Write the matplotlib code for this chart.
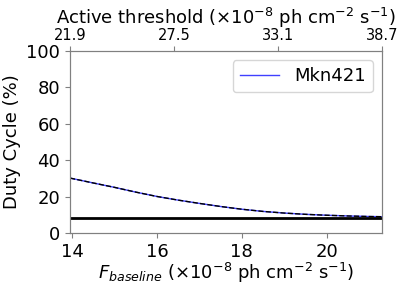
import matplotlib.pyplot as plt
import numpy as np

# Mkn421 duty cycle vs baseline flux
f_base = [13.95, 14.5, 15, 15.5, 16, 16.5, 17, 17.5, 18, 18.5, 19, 19.5, 20, 20.5, 21, 21.3]
duty = [30.2, 27.5, 25.1, 22.5, 20.1, 18.1, 16.3, 14.6, 13.1, 11.9, 11.0, 10.3, 9.8, 9.4, 9.1, 9.0]
duty_floor = 8.3
top_labels = ['21.9', '27.5', '33.1', '38.7']

xmin, xmax = 13.95, 21.3

fig = plt.figure(figsize=(4.07, 2.91), dpi=100)
ax = fig.add_axes([0.172, 0.199, 0.766, 0.626])

ax.plot(f_base, duty, color='#4040ff', lw=1, label='Mkn421')
ax.plot(f_base, duty, color='black', lw=1, ls='--')
ax.axhline(duty_floor, color='black', lw=2)

ax.set_xlim(xmin, xmax)
ax.set_ylim(0, 100)
ax.set_xticks([14, 16, 18, 20])
ax.set_yticks([0, 20, 40, 60, 80, 100])
ax.tick_params(labelsize=13, color='gray')
for s in ax.spines.values():
    s.set_color('gray')

ax.set_xlabel(r'$F_{baseline}$ ($\times10^{-8}$ ph cm$^{-2}$ s$^{-1}$)', fontsize=13, labelpad=0)
ax.set_ylabel('Duty Cycle (%)', fontsize=13)
ax.legend(loc='upper right', fontsize=13, handlelength=2.2)

top = ax.twiny()
top.set_xlim(xmin, xmax)
top.set_xticks(np.linspace(xmin, xmax, 4))
top.set_xticklabels(top_labels)
top.tick_params(labelsize=10.5, color='gray', pad=2)
for s in top.spines.values():
    s.set_color('gray')
top.set_xlabel(r'Active threshold ($\times10^{-8}$ ph cm$^{-2}$ s$^{-1}$)', fontsize=13, labelpad=3)

fig.savefig('out.png')
